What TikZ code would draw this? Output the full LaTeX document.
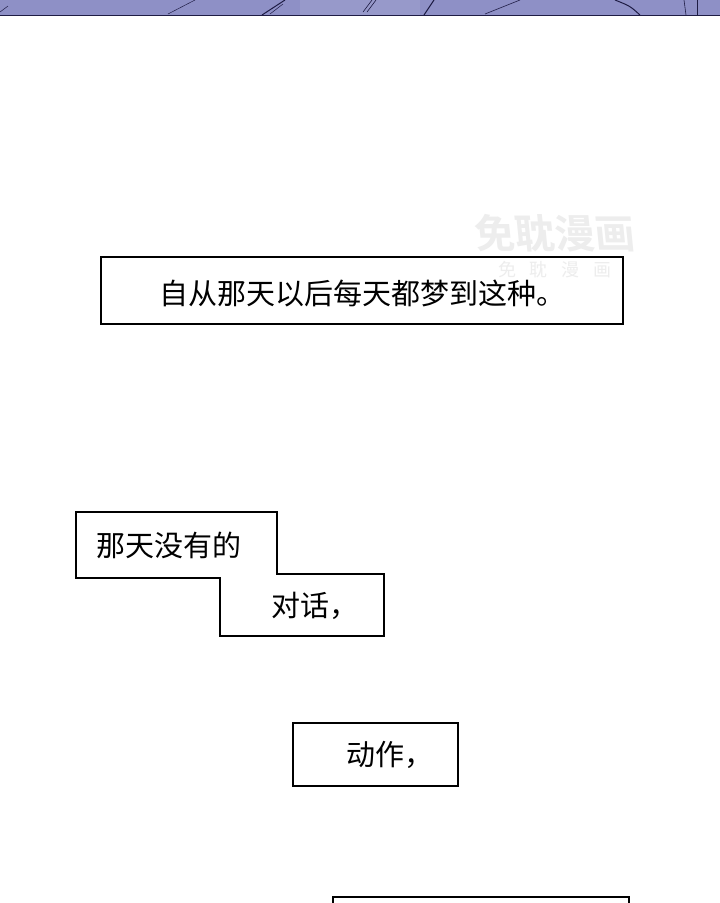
\documentclass[tikz,border=0pt]{standalone}
\usepackage{fontspec}
\newfontfamily\cjk{Noto Sans CJK SC}
\newfontfamily\cjkb{Noto Sans CJK SC Bold}
\definecolor{artblue}{HTML}{8E90C6}
\definecolor{artdark}{HTML}{1E1C44}
\definecolor{wm}{HTML}{EDEDED}
\tikzset{
  capbox/.style={draw=black, line width=1.3pt, fill=white},
  captext/.style={font=\cjk\fontsize{29}{31}\selectfont, text=black, inner sep=0pt},
  artline/.style={draw=artdark, line width=1pt},
  wmtext/.style={text=wm, inner sep=0pt},
}
\begin{document}
\begin{tikzpicture}[x=1pt,y=-1pt]
\useasboundingbox (0,0) rectangle (720,903);
\fill[white] (0,0) rectangle (720,903);
% top strip of artwork
\fill[artblue] (0,0) rectangle (720,15);
\fill[artblue!92!white] (300,0) rectangle (420,15);
\draw[artline] (262,15) -- (285,0);
\draw[artline, line width=0.5pt] (168,14) -- (195,0);
\draw[artline, line width=0.5pt] (270,14) -- (283,4);
\draw[artline] (424,15) -- (434,0);
\draw[artline, line width=0.6pt] (363,12) -- (372,0);
\draw[artline, line width=0.6pt] (367,12) -- (376,0);
\draw[artline, line width=0.6pt] (485,14) -- (520,0);
\draw[artline] (640,15) .. controls (630,6) .. (615,0);
\draw[artline, line width=0.6pt] (686,15) -- (684,0);
\draw[artline, line width=0.6pt] (697,15) -- (697,0);
\draw[artline, line width=0.5pt] (0,12) -- (8,6);
\draw[artdark, line width=1.2pt] (0,15.5) -- (720,15.5);
% box 1
\draw[capbox] (101,257) rectangle (623,324);
\node[captext] (t1) at (362,293) {自从那天以后每天都梦到这种。};
% watermark
\node[wmtext, font=\cjkb\fontsize{40}{42}\selectfont, xslant=-0.1] (wm1) at (555,233) {免耽漫画};
\node[wmtext, font=\cjk\fontsize{18}{20}\selectfont] (wm2) at (555,270) {免\hspace{14pt}耽\hspace{14pt}漫\hspace{14pt}画};
% step box
\draw[capbox] (76,512) -- (277,512) -- (277,574) -- (384,574) -- (384,636) -- (220,636) -- (220,578) -- (76,578) -- cycle;
\node[captext, anchor=west] (t2) at (96,545) {那天没有的};
\node[captext, anchor=west] (t3) at (271,606) {对话，};
% box 3
\draw[capbox] (293,723) rectangle (458,786);
\node[captext, anchor=west] (t4) at (346,755) {动作，};
% box 4 (cut at bottom)
\draw[capbox] (333,910) -- (333,897) -- (629,897) -- (629,910);
\end{tikzpicture}
\end{document}
